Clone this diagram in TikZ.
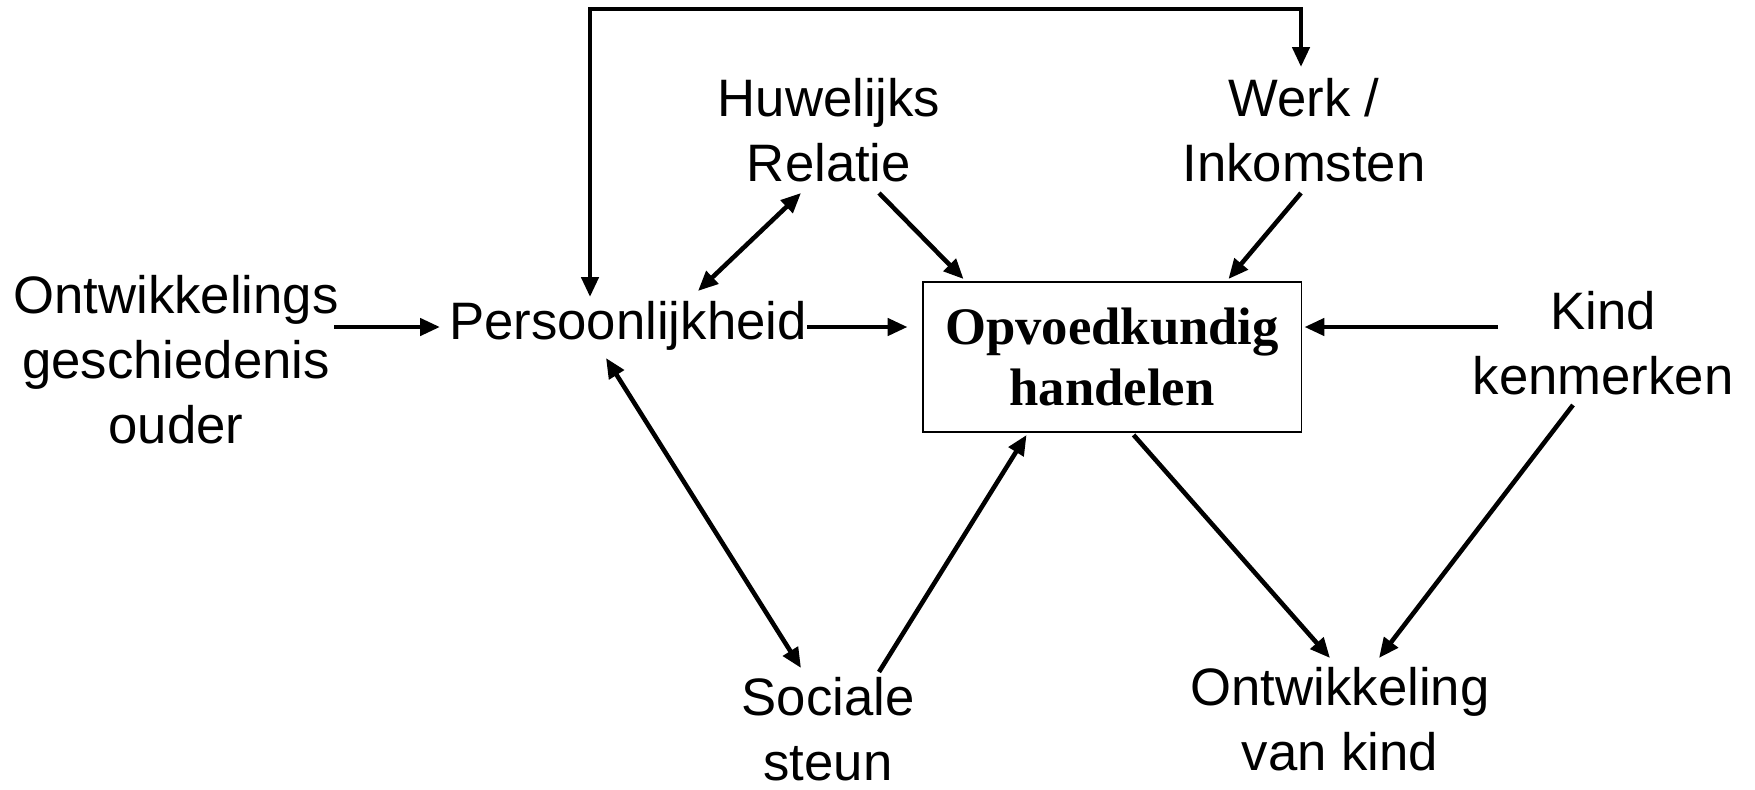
\documentclass[tikz,border=0pt]{standalone}
\usepackage{fontspec}
\setmainfont{Liberation Sans}
\newfontfamily\boxfont{Liberation Serif}
\usetikzlibrary{arrows.meta,calc}

\begin{document}
\begin{tikzpicture}[x=0.02cm,y=-0.02cm, every node/.style={align=center,inner sep=0pt,
font=\fontsize{30}{37}\selectfont},
arr/.style={line width=2.6pt,-{Triangle[length=0.4cm,width=0.34cm]}},
twoway/.style={line width=2.6pt,{Triangle[length=0.4cm,width=0.34cm]}-{Triangle[length=0.4cm,width=0.34cm]}}]
\useasboundingbox (0,0) rectangle (1755,789);

\node (hist) at (176,360) {Ontwikkelings\\geschiedenis\\ouder};
\node (pers) at (628,326) {Persoonlijkheid};
\node (huw)  at (829,130) {Huwelijks\\Relatie};
\node (werk) at (1304,130) {Werk /\\Inkomsten};
\node (opv)  at (1112,357) [draw,line width=1.1pt,minimum width=7.58cm,minimum height=3cm,
  font=\boxfont\bfseries\fontsize{30}{35}\selectfont] {Opvoedkundig\\handelen};
\node (kind) at (1603,343) {Kind\\kenmerken};
\node (steun) at (828,729) {Sociale\\steun};
\node (ontw) at (1340,719) {Ontwikkeling\\van kind};

\draw[arr] ($(hist)+(158,-33)$) -- ($(pers)+(-188,1)$);
\draw[arr] ($(pers)+(179,1)$) -- ($(opv.west)+(-14,-30)$);
\draw[twoway] ($(pers)+(70,-35)$) -- ($(huw)+(-28,63)$);
\draw[twoway] ($(pers)+(-22,32)$) -- ($(steun)+(-27,-61)$);
\draw[twoway] ($(pers)+(-38,-29)$) -- ++(0,-288) -| ($(werk)+(-3,-63)$);
\draw[arr] ($(huw)+(50,63)$) -- ($(opv.north west)+(42,-2)$);
\draw[arr] ($(werk)+(-3,63)$) -- ($(opv.north east)+(-74,-2)$);
\draw[arr] ($(kind)+(-105,-16)$) -- ($(opv.east)+(2,-30)$);
\draw[arr] ($(steun)+(51,-57)$) -- ($(opv.south west)+(105,2)$);
\draw[arr] ($(opv.south west)+(212,2)$) -- ($(ontw)+(-10,-61)$);
\draw[arr] ($(kind)+(-30,62)$) -- ($(ontw)+(39,-61)$);
\end{tikzpicture}
\end{document}
